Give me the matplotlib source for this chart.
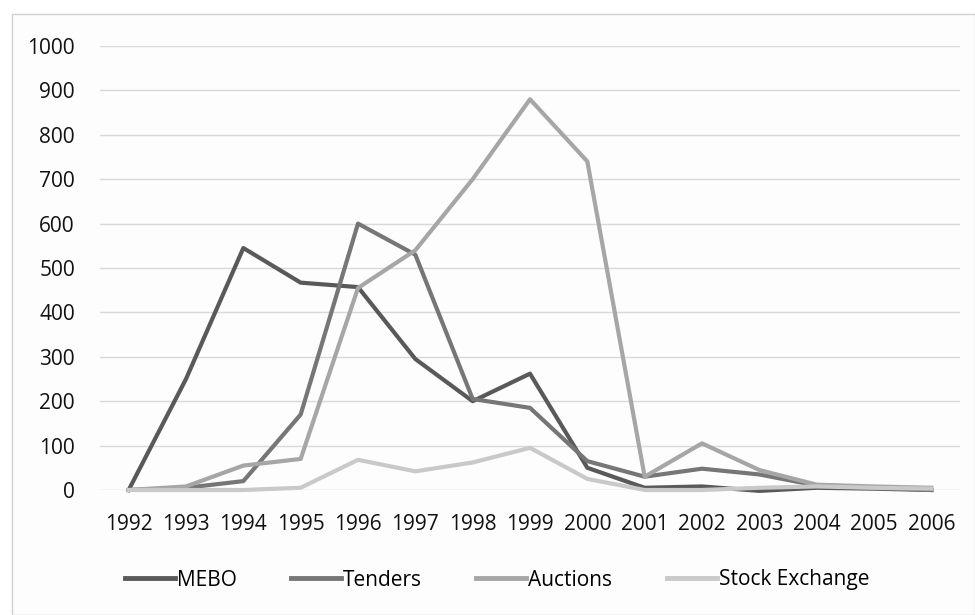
import matplotlib
matplotlib.use('Agg')
import matplotlib.pyplot as plt
from matplotlib.patches import Rectangle

years = [str(y) for y in range(1992, 2007)]
mebo = [0, 250, 545, 467, 457, 295, 200, 262, 50, 5, 8, -2, 5, 3, 0]
tenders = [0, 5, 20, 170, 600, 530, 205, 185, 65, 30, 48, 35, 10, 5, 0]
auctions = [0, 8, 55, 70, 455, 540, 700, 880, 740, 30, 105, 45, 12, 8, 5]
stock = [0, 0, 0, 5, 68, 42, 62, 95, 25, 0, 0, 5, 8, 5, 3]

series = [
    ('MEBO', mebo, '#595959'),
    ('Tenders', tenders, '#767676'),
    ('Auctions', auctions, '#a6a6a6'),
    ('Stock Exchange', stock, '#c9c9c9'),
]

plt.rcParams['font.family'] = ['Open Sans', 'DejaVu Sans']

fig = plt.figure(figsize=(9.75, 6.15), dpi=100, facecolor='white')
# outer chart frame, kept behind the axes
fig.patches.append(Rectangle((12 / 975, 0), 1 - 12 / 975, 1 - 14 / 615,
                             transform=fig.transFigure, fill=True, zorder=-5,
                             facecolor='#fdfdfd', edgecolor='#d0d0d0', lw=1))
ax = fig.add_axes([100 / 975, 1 - 490 / 615, 860 / 975, 444 / 615])
ax.set_facecolor('#fdfdfd')

x = range(len(years))
for name, vals, color in series:
    ax.plot(x, vals, color=color, lw=3, label=name, clip_on=False)

ax.set_xlim(-0.5, len(years) - 0.5)
ax.set_ylim(0, 1000)
ax.set_yticks(range(0, 1001, 100))
ax.set_xticks(list(x))
ax.set_xticklabels(years)
ax.grid(axis='y', color='#d9d9d9', lw=1)
ax.set_axisbelow(True)
for s in ax.spines.values():
    s.set_visible(False)
ax.tick_params(length=0, labelsize=15, colors='#111111', pad=18)
ax.tick_params(axis='x', pad=17)

leg = fig.legend(loc='center', bbox_to_anchor=(497 / 975, 1 - 580 / 615), ncol=4,
                 frameon=False, fontsize=15, handlelength=2.4, columnspacing=2.6,
                 handletextpad=0.1)
for h in leg.get_lines():
    h.set_linewidth(3.5)

fig.savefig('out.png', dpi=100, facecolor='white')
